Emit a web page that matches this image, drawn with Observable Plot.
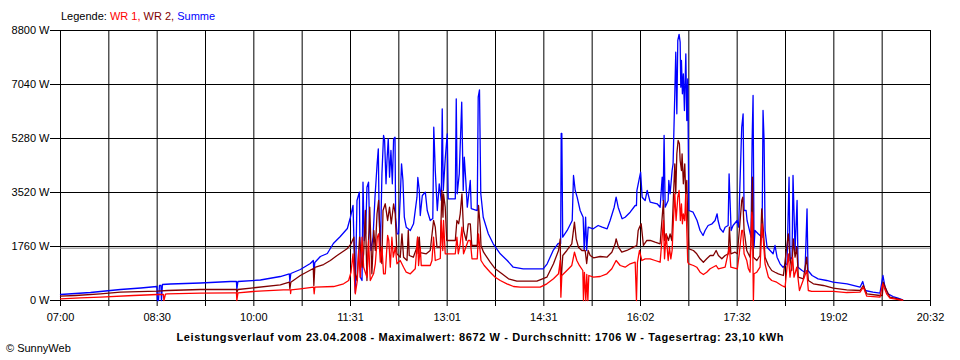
<!DOCTYPE html>
<html><head><meta charset="utf-8">
<script src="https://cdn.jsdelivr.net/npm/d3@7"></script>
<script src="https://cdn.jsdelivr.net/npm/@observablehq/plot@0.6"></script>
<style>body{margin:0;background:#fff}</style>
</head><body><div id="chart"></div><script>
// time in minutes since midnight, power in W
const summe = [
[420,196],[434,228],[448,261],[462,310],[476,359],[495,407],[510,456],[510.5,0],[511.5,0],[512.4,489],[513.8,489],[514.3,0],[515.2,521],[522.7,538],[550.7,570],[578.7,619],[584.3,619],[584.7,359],[585.7,619],[606.7,668],[625.3,782],[633.7,864],[634.2,619],[635.1,880],[644,1010],[653.3,1206],[656.1,1304],[656.6,913],[657.5,1239],[662.7,1434],[669.2,1532],[674.8,1858],[681.3,2086],[687.9,2347],[690.7,2705],
[693.2,3096],[695.3,261],[696.9,3259],[699.1,3530],[700,759],[701.6,652],[702.5,3856],[703.7,1956],[705,2184],[706.2,3693],[707.7,3856],[708.7,2282],[710,1630],[711.9,2063],[713.7,3367],[715.6,4400],[716.8,4944],[717.5,2933],[718.7,1630],[720.2,4129],[721.7,5378],[722.7,5215],[724,3803],[724.9,4563],[726.1,5270],[727.3,4018],[728.6,4889],[729.9,3803],[731.1,5270],[732.4,5322],[733,2715],[734.3,2174],[735.7,2174],[737.3,3367],[738.5,4455],[739.8,3911],[741.1,2715],[742.9,2389],[746.7,2282],[749.7,2500],[752.9,3367],[753.7,4009],[755.1,3585],[756,2770],[757.9,3422],[760.7,3530],[762.5,2933],[765.3,2607],[767.7,2673],[768.1,3911],[768.6,5648],[770,4237],[771.9,2933],[773.7,3803],[775.6,3259],[776.5,6248],[777.5,3585],[779.3,4618],[781.2,5433],[782.1,3315],[788.7,3315],[789.6,6574],[790.5,3478],[792.4,4129],[794.7,6463],[796.1,3585],[797.1,4670],[798.5,3911],[799.9,3041],[802.7,3911],[803.6,2998],[809.2,2933],[810.1,6626],[811.3,6867],[812.5,3487],[814.8,2715],[819.5,2174],[824.1,1848],[830.7,1522],[837.2,1304],[842.8,1085],[852.1,1033],[870.8,1033],
[874.5,1196],[880.1,1630],[884.8,1858],[887.1,1858],[887.6,5443],[888.2,5443],[889,2063],[893.2,2282],[897.9,2607],[899.1,4074],[900.7,3585],[902.5,3367],[905.3,2933],[908.1,2715],[909.1,1630],[910.4,2715],[911.4,1630],[912.8,2389],[917.5,2337],[922.1,2444],[925.9,2389],[930.5,2337],[933.3,2607],[937.1,3041],[938.9,3367],[940.8,3041],[944.5,2663],[947.3,2715],[952,2878],[956.7,3096],[957.9,3096],[958.3,3585],[960.8,4018],[961.8,4181],[963.2,3367],[966,3259],[967.9,3585],[970.7,3204],[977.2,3152],[980,3041],[981.9,4018],[982.8,3259],[983.7,5378],[984.7,3041],[987.5,3259],[988.1,3911],[989.3,3478],[991.2,4237],[992.1,4455],[993.7,6737],[994.6,8093],[995.6,6085],[996.5,8474],[997.7,8672],[998.7,8419],[999.3,6952],[999.9,7822],[1000.8,6737],[1001.7,7389],[1002.7,6193],[1004,8041],[1004.9,5867],[1005.8,7226],[1006.8,2933],[1010.8,2878],[1014.5,2607],[1017.3,2282],[1020.1,2119],[1022,2282],[1024.8,2444],[1028.5,2500],[1031.3,2607],[1033.2,2826],[1034.1,2607],[1036,2347],[1038.8,2226],[1040.7,2389],[1043.5,2444],[1044.4,4129],[1046.3,2282],[1048.1,2444],[1051.9,2607],[1053.3,2389],[1056.2,5648],[1057.5,6085],[1058.4,2933],[1060.3,2933],[1061.2,2607],[1063.1,2337],[1064.9,2063],[1065.9,5215],[1066.8,6681],[1067.7,1737],[1068.6,2282],[1071.5,2174],[1075.2,2063],[1076.1,6193],[1077.1,5215],[1078,2282],[1079.9,1737],[1082.7,1630],[1085.5,1522],[1087.3,1793],[1089.2,1411],[1092,1196],[1094.8,1085],[1098.5,1196],[1100.4,4018],[1101.3,1304],[1103.2,1411],[1104.1,4074],[1106,1630],[1107.9,3259],[1108.8,1085],[1112.5,978],[1115.3,922],[1117.2,2989],[1118.1,978],[1121.9,815],[1127.5,707],[1135.5,652],[1141.5,596],[1154.6,544],[1166.7,434],[1169.2,619],[1171.3,326],[1178.8,271],[1185.3,238],[1188.1,815],[1190,434],[1192.8,218],[1197.5,130],[1202.1,75],[1206.5,23]
];
const wr2 = [
[420,140],[434,163],[457.3,218],[476,272],[510.5,304],[519.9,326],[550.7,359],[584.3,359],[584.7,261],[585.7,359],[600.1,414],[625.3,512],[633.7,596],[634.2,381],[635.1,596],[644,815],[656.1,1043],[656.6,489],[657.5,1076],[665.7,1173],[672,1304],[678.3,1467],[687.6,1685],[691.3,1848],
[694,2063],[695.3,870],[696.9,652],[699.3,2063],[701.6,1085],[703.1,1522],[704.7,2933],[706.2,652],[707.7,1956],[708.8,3041],[710.8,870],[712.6,2282],[714,1630],[715.6,2826],[717.1,3259],[718.7,1737],[720.1,1206],[721.2,2933],[723.3,3152],[725.5,2607],[727.3,3041],[728.9,2500],[731.1,3152],[732.6,2826],[734.2,1522],[737.3,1411],[738.9,2174],[740.4,1411],[743.6,1304],[744.8,2282],[745.7,1467],[749.5,1411],[752.9,1737],[753.5,2063],[754.1,1522],[755.1,2063],[756,1564],[761.6,1522],[765.3,1630],[768.4,2607],[770,2389],[771.6,1737],[774.7,1737],[776.2,3585],[777.2,2715],[777.7,3478],[779.3,3041],[780.7,1956],[788.7,1956],[790.2,2607],[791.8,2500],[793.3,2826],[794.9,3478],[796.4,2282],[798.9,1956],[800.8,2500],[802.7,2500],[804.1,1793],[809.2,1793],[810.4,3096],[812,2389],[812.7,1793],[815.1,1574],[821.3,1248],[826,1033],[832.3,870],[838.4,707],[846.2,629],[864.9,629],[874.2,759],
[880.4,1196],[885.1,1630],[886.7,2011],[887.3,544],[889.1,1467],[892.9,1630],[897.5,1848],[900,2552],[901.6,2011],[903.7,1737],[906.9,1630],[910,1630],[911.4,1206],[912.8,1630],[914.7,1467],[917.8,1392],[924,1434],[930.3,1411],[934.9,1574],[938,1848],[938.9,2011],[941.1,1737],[944.2,1574],[948.9,1630],[955.1,1737],[958.2,1793],[959.5,2282],[960.7,2389],[962.3,2500],[964.4,1793],[967.6,1956],[970.7,1956],[975.3,1900],[980,1848],[983.1,3259],[984.1,1956],[985.6,2174],[987.8,1956],[989.3,2174],[990.9,1956],[992.4,3367],[993.7,4455],[994.6,3478],[995.6,4781],[996.8,5215],[998,5107],[998.7,4563],[999.9,4237],[1000.5,4781],[1001.7,3803],[1003,4455],[1003.9,3478],[1004.9,3911],[1005.8,2607],[1006.8,1685],[1011.1,1630],[1014.2,1522],[1017.3,1359],[1020.4,1248],[1023.5,1359],[1026.7,1467],[1029.7,1467],[1032.3,1630],[1034.4,1467],[1037.6,1359],[1040.7,1467],[1043.7,1522],[1044.7,2389],[1046,1522],[1050,1574],[1052.1,1522],[1054.2,2389],[1056.2,3259],[1057.2,3367],[1058.4,2282],[1060.9,1630],[1062.4,1522],[1064,1411],[1064.9,1956],[1066.2,4018],[1067.1,1411],[1070.3,1304],[1073.3,1467],[1074.9,2989],[1076.4,2282],[1078,1411],[1081.1,1141],[1084.2,978],[1087.3,922],[1090.4,870],[1095.1,815],[1099.7,2174],[1101.3,1411],[1102.9,978],[1104.4,2011],[1106,1411],[1107.6,1737],[1109.1,759],[1113.8,707],[1116.9,1411],[1118.4,652],[1123.1,544],[1132.4,489],[1141.7,401],[1154.2,349],[1166.7,326],[1169.8,489],[1173,218],[1185.3,163],[1187.5,163],[1188.4,596],[1191.5,326],[1194.6,108],[1204,33],[1206.5,10]
];
const wr1 = [
[420,55],[438.7,88],[457.3,108],[488.1,163],[510.5,196],[516.1,196],[516.6,0],[518,205],[519.9,218],[550.7,238],[581.5,251],[584.3,251],[584.7,0],[585.7,251],[600.1,293],[628.1,349],[634.7,349],[634.9,228],[635.3,349],[644,381],[656.4,434],[656.9,218],[657.5,434],[675.1,456],[684.4,544],[689.1,652],[691.3,922],[693.2,1522],
[695.3,218],[697.2,652],[698.4,1630],[700,759],[701.6,2063],[703.1,1085],[706.2,759],[707.7,1956],[709.3,652],[712.4,870],[714,1196],[715.9,2063],[717.1,2174],[718.7,1248],[720.2,1737],[721.7,870],[723.3,870],[725.5,2119],[726.6,1956],[728,1085],[729.5,2063],[730.8,1411],[732.7,1737],[734.2,1196],[737.3,1304],[740.4,1085],[742.9,922],[746.7,870],[751.3,1033],[753.5,2063],[754.4,1141],[756,1737],[756.9,1141],[765.3,1141],[766.9,1304],[768.4,2063],[770,1304],[774.7,1369],[775.6,2607],[777,1630],[777.7,2607],[779.3,1522],[788.7,1522],[790.2,2063],[791.5,1522],[793.3,1848],[794.9,2389],[796.4,1522],[800.8,1956],[802.7,1956],[804.3,1359],[809.2,1359],[810.4,2174],[812.7,1304],[815.7,1141],[821.3,922],[826,759],[830.7,652],[836.9,544],[843.1,456],[849.3,434],[868,434],[874.2,544],
[880.4,707],[885.1,870],[886.7,1304],[887.3,108],[888.2,815],[892.9,978],[897.5,1141],[900,1574],[902.2,1304],[904.6,1141],[907.8,978],[908.4,0],[909.3,913],[910.6,0],[911.5,847],[912.5,0],[913.4,815],[917.8,759],[924,782],[930.3,870],[934.9,1033],[938.9,1304],[942.7,1141],[947.3,1085],[952,1196],[956.7,1248],[957.9,0],[958.8,1239],[960.7,1630],[962.9,1304],[966,1359],[970.7,1359],[975.3,1304],[980,1248],[983.1,2607],[984.1,1359],[985.6,2174],[987.5,1304],[988.7,1737],[990,1359],[991.2,1630],[992.4,2607],[993.7,3478],[994.9,2607],[996.5,3367],[997.7,3585],[998.9,2607],[999.9,3152],[1000.8,2500],[1001.7,2826],[1003,2607],[1003.9,3478],[1005.2,1956],[1005.8,1248],[1006.8,1196],[1011.1,1141],[1014.2,1085],[1017.3,922],[1020.4,847],[1023.5,922],[1026.7,1033],[1032.3,1141],[1034.4,1033],[1040.7,1085],[1044.7,1737],[1046,1085],[1052.1,1033],[1053.9,1522],[1056.2,2282],[1057.2,2282],[1058.4,1522],[1060.9,1304],[1062.4,1033],[1064,922],[1065.6,2878],[1066.2,2715],[1067.1,0],[1067.7,870],[1070.3,922],[1073.3,1085],[1075.2,2500],[1076.4,1956],[1078,1196],[1081.1,759],[1084.2,652],[1088.8,596],[1093.5,489],[1096.7,434],[1099.7,1522],[1101.3,759],[1103.8,1411],[1105,759],[1107.6,1085],[1110.1,326],[1116.9,978],[1118.4,326],[1121.5,300],[1141.7,300],[1154.2,260],[1166.7,272],[1169.8,434],[1173,141],[1185.3,108],[1187.8,544],[1191.5,218],[1194.6,75],[1204,23],[1206.5,10]
];

const seriesNames = ["WR 1", "WR 2", "Summe"];
const seriesColors = ["#ff0000", "#800000", "#0000ff"];
const xTickLabels = ["07:00","08:30","10:00","11:31","13:01","14:31","16:02","17:32","19:02","20:32"];
const yTicks = [0, 1760, 3520, 5280, 7040, 8800];
const average = 1706;
const xStart = 420, xEnd = 1232.5;
const titleText = "Leistungsverlauf vom 23.04.2008 - Maximalwert: 8672 W - Durchschnitt: 1706 W - Tagesertrag: 23,10 kWh";
const creditText = "© SunnyWeb";

const gridCount = (xTickLabels.length - 1) * 2;
const step = (xEnd - xStart) / gridCount;
const xGrid = d3.range(gridCount + 1).map(i => xStart + i * step);
const fmtX = d => { const i = Math.round((d - xStart) / step); return i % 2 === 0 ? xTickLabels[i / 2] : ""; };
const font = "'Liberation Sans', Arial, sans-serif";

const chart = Plot.plot({
  width: 960, height: 360,
  marginLeft: 60, marginRight: 30, marginTop: 30, marginBottom: 60,
  style: {fontFamily: font, fontSize: "11px", color: "#000", background: "#fff", overflow: "visible"},
  x: {domain: [xStart, xEnd]},
  y: {domain: [0, 8800]},
  marks: [
    Plot.ruleX(xGrid, {stroke: "#000", strokeWidth: 1}),
    Plot.ruleY(yTicks, {stroke: "#000", strokeWidth: 1}),
    Plot.ruleY([average], {stroke: "#808080", strokeWidth: 1}),
    Plot.axisX({ticks: xGrid, tickSize: 6, tickPadding: 7, tickFormat: fmtX, label: null, stroke: "#000", fill: "#000"}),
    Plot.axisY({ticks: yTicks, tickSize: 10, tickPadding: 1, tickFormat: d => d + " W", label: null, stroke: "#000", fill: "#000"}),
    Plot.line(summe, {x: d => d[0], y: d => d[1], stroke: seriesColors[2], strokeWidth: 1.3}),
    Plot.line(wr2, {x: d => d[0], y: d => d[1], stroke: seriesColors[1], strokeWidth: 1.3}),
    Plot.line(wr1, {x: d => d[0], y: d => d[1], stroke: seriesColors[0], strokeWidth: 1.3})
  ]
});
document.getElementById("chart").appendChild(chart);

const svg = d3.select(chart);
const leg = svg.append("text").attr("x", 61).attr("y", 20).attr("text-anchor", "start")
  .attr("font-family", font).attr("font-size", 11);
leg.append("tspan").attr("fill", "#000").text("Legende: ");
seriesNames.forEach((n, i) => {
  leg.append("tspan").attr("fill", seriesColors[i]).text(n + (i < seriesNames.length - 1 ? ", " : ""));
});
svg.append("text").attr("x", 480).attr("y", 341).attr("text-anchor", "middle")
  .attr("font-family", font).attr("font-size", 11).attr("font-weight", "bold").attr("fill", "#000")
  .attr("textLength", 607).attr("lengthAdjust", "spacing").text(titleText);
svg.append("text").attr("x", 6).attr("y", 352).attr("text-anchor", "start")
  .attr("font-family", font).attr("font-size", 11).attr("fill", "#000").text(creditText);
</script></body></html>
